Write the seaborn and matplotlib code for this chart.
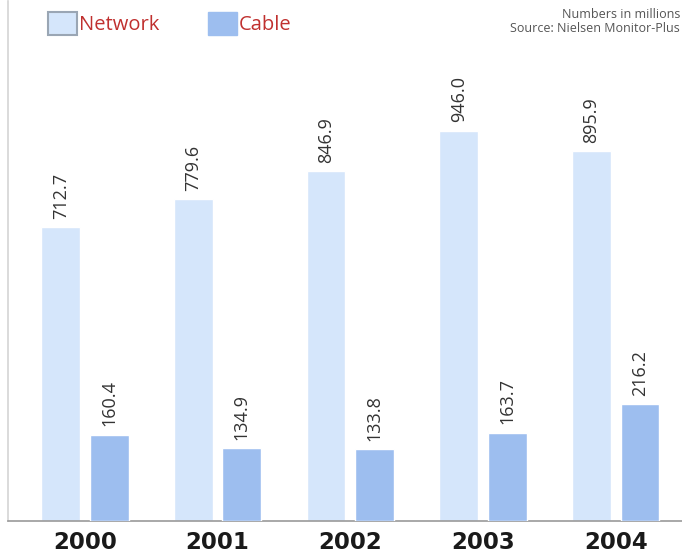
import matplotlib
matplotlib.use("Agg")
import matplotlib.pyplot as plt
from matplotlib.patches import Patch
import pandas as pd
import seaborn as sns

years = ["2000", "2001", "2002", "2003", "2004"]
network = [712.7, 779.6, 846.9, 946.0, 895.9]
cable = [160.4, 134.9, 133.8, 163.7, 216.2]
series = ["Network", "Cable"]

NET_COLOR = "#d5e6fb"
CAB_COLOR = "#9dbeef"
palette = {"Network": NET_COLOR, "Cable": CAB_COLOR}

df = pd.DataFrame({
    "year": years * 2,
    "kind": ["Network"] * len(years) + ["Cable"] * len(years),
    "value": network + cable,
})

sns.set_theme(style="white")
plt.rcParams["font.family"] = ["Open Sans", "DejaVu Sans"]

W, H = 682, 554
fig = plt.figure(figsize=(W / 100, H / 100), dpi=100)
ax = fig.add_axes([8 / W, 33 / H, (W - 8) / W, (H - 34) / H])
ax2 = ax.twinx()

# Network and cable are each drawn on their own value scale
sns.barplot(data=df[df.kind == "Network"], x="year", y="value", hue="kind",
            hue_order=series, palette=palette, order=years, width=0.73,
            gap=0.2, dodge=True, legend=False, ax=ax, saturation=1)
sns.barplot(data=df[df.kind == "Cable"], x="year", y="value", hue="kind",
            hue_order=series, palette=palette, order=years, width=0.73,
            gap=0.2, dodge=True, legend=False, ax=ax2, saturation=1)

ax.set_ylim(0, 1260)
ax2.set_ylim(0, 965)
ax.set_xlim(-0.58, 4.5)

for a, vals in ((ax, network), (ax2, cable)):
    for cont in a.containers:
        bars = [b for b in cont if b is not None]
        if len(bars) != len(vals):
            continue
        a.bar_label(cont, labels=[f"{v:.1f}" for v in vals], rotation=90,
                    padding=6, fontsize=13, color="#333333")
    a.set_ylabel("")
    a.set_xlabel("")
    a.set_yticks([])
    for s in ("top", "right", "left", "bottom"):
        a.spines[s].set_visible(False)

ax.spines["left"].set_visible(True)
ax.spines["left"].set_color("#d4d4d4")
ax.spines["left"].set_linewidth(1.2)
ax.spines["bottom"].set_visible(True)
ax.spines["bottom"].set_color("#9a9a9a")
ax.spines["bottom"].set_linewidth(1.2)

ax.tick_params(axis="x", length=0, pad=7, labelsize=16.5, labelcolor="#1a1a1a")
for lbl in ax.get_xticklabels():
    lbl.set_fontweight("bold")
    lbl.set_family("DejaVu Sans")

handles = [Patch(facecolor=NET_COLOR, edgecolor="#9aa6b4", linewidth=1.5),
           Patch(facecolor=CAB_COLOR, edgecolor=CAB_COLOR)]
leg = fig.legend(handles, series, loc="upper left", ncol=2,
                 bbox_to_anchor=(40 / W, 1 - 4 / H), frameon=False,
                 fontsize=14.5, handlelength=1.45, handleheight=1.35,
                 handletextpad=0.1, columnspacing=2.4, borderaxespad=0)
for t in leg.get_texts():
    t.set_color("#c0302f")

fig.text(680 / W, 1 - 8 / H, "Numbers in millions\nSource: Nielsen Monitor-Plus",
         ha="right", va="top", fontsize=9, color="#555555", linespacing=1.15)

fig.savefig("out.png", dpi=100)
